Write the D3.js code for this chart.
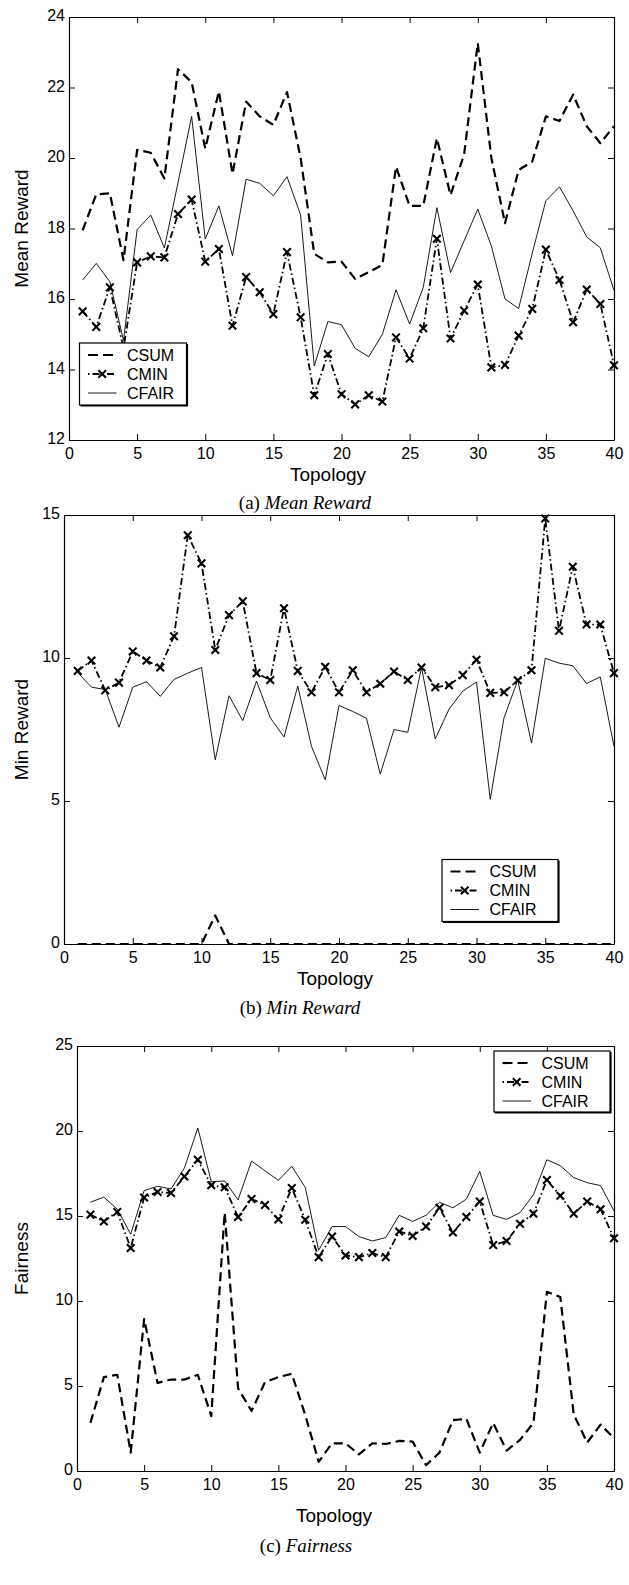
<!DOCTYPE html>
<html><head><meta charset="utf-8">
<script src="https://cdn.jsdelivr.net/npm/d3@7/dist/d3.min.js"></script>
<style>body{margin:0;background:#fff} svg{display:block}</style>
</head><body>
<svg id="chart" width="629" height="1585"></svg>
<script>
// ---------- data ----------
const topology = [1,2,3,4,5,6,7,8,9,10,11,12,13,14,15,16,17,18,19,20,21,22,23,24,25,26,27,28,29,30,31,32,33,34,35,36,37,38,39,40];
const seriesNames = ["CSUM","CMIN","CFAIR"];
const xTicks = [0,5,10,15,20,25,30,35,40];

const meanTicks = [12,14,16,18,20,22,24];
const meanCSUM = [17.95,18.97,19.0,17.1,20.23,20.15,19.42,22.52,22.15,20.27,21.89,19.55,21.6,21.18,20.94,21.87,20.0,17.28,17.04,17.06,16.57,16.76,16.97,19.75,18.64,18.64,20.56,18.95,20.1,23.26,20.0,18.15,19.66,19.9,21.18,21.05,21.8,20.9,20.42,20.9];
const meanCMIN = [15.65,15.21,16.33,14.6,17.04,17.21,17.18,18.41,18.82,17.06,17.42,15.24,16.62,16.19,15.57,17.33,15.48,13.27,14.44,13.30,13.01,13.27,13.09,14.91,14.31,15.17,17.71,14.88,15.67,16.41,14.06,14.13,14.96,15.72,17.40,16.54,15.34,16.27,15.86,14.12];
const meanCFAIR = [16.54,17.01,16.49,14.82,17.97,18.38,17.45,19.3,21.18,17.7,18.64,17.23,19.4,19.28,18.93,19.47,18.38,14.10,15.36,15.27,14.6,14.36,15.0,16.26,15.29,16.33,18.59,16.75,17.65,18.55,17.5,16.0,15.73,17.3,18.79,19.18,18.5,17.76,17.45,16.24];

const minTicks = [0,5,10,15];
const minCSUM = [0,0,0,0,0,0,0,0,0,0,1.0,0,0,0,0,0,0,0,0,0,0,0,0,0,0,0,0,0,0,0,0,0,0,0,0,0,0,0,0,0];
const minCMIN = [9.55,9.91,8.87,9.14,10.23,9.91,9.67,10.76,14.29,13.31,10.28,11.5,11.98,9.47,9.23,11.74,9.55,8.80,9.69,8.80,9.57,8.80,9.10,9.53,9.23,9.67,8.98,9.05,9.40,9.94,8.78,8.80,9.22,9.57,14.88,10.95,13.19,11.17,11.17,9.47];
const minCFAIR = [9.49,8.98,8.9,7.58,8.98,9.17,8.66,9.25,9.47,9.67,6.44,8.68,7.81,9.19,7.91,7.24,9.02,6.91,5.74,8.34,8.13,7.89,5.94,7.5,7.4,9.67,7.17,8.21,8.84,9.16,5.06,7.91,9.22,7.03,9.99,9.82,9.73,9.11,9.34,6.91];

const fairTicks = [0,5,10,15,20,25];
const fairCSUM = [2.83,5.52,5.66,1.08,8.94,5.18,5.38,5.38,5.66,3.23,15.2,4.86,3.53,5.22,5.52,5.72,3.3,0.54,1.63,1.63,0.98,1.63,1.59,1.77,1.73,0.34,1.08,2.99,3.07,1.08,2.83,1.2,1.83,2.83,10.54,10.24,3.33,1.67,2.73,1.93];
const fairCMIN = [15.08,14.68,15.24,13.12,16.09,16.41,16.35,17.32,18.31,16.81,16.69,14.94,16.0,15.65,14.8,16.65,14.78,12.58,13.79,12.68,12.58,12.82,12.58,14.09,13.83,14.38,15.48,14.03,14.94,15.85,13.29,13.53,14.54,15.14,17.12,16.19,15.14,15.85,15.4,13.69];
const fairCFAIR = [15.81,16.11,15.4,13.93,16.49,16.75,16.59,17.82,20.18,17.02,17.06,15.95,18.23,17.66,17.1,17.92,16.69,12.98,14.38,14.38,13.79,13.53,13.73,15.04,14.68,15.04,15.81,15.48,15.99,17.62,15.04,14.8,15.2,16.25,18.31,17.96,17.26,16.96,16.79,15.3];

// ---------- layout / style ----------
const SANS = "'Liberation Sans', Arial, Helvetica, sans-serif";
const SERIF = "'Liberation Serif', 'Times New Roman', serif";
const styles = {
  CSUM:  {width:2.2, dash:"9,5"},
  CMIN:  {width:1.8, dash:"7,3,1.5,3", marker:true},
  CFAIR: {width:0.9, dash:null}
};

const panels = [
  {left:69, right:614, top:17, bottom:440, domain:[12,24], yTicks:meanTicks,
   series:[meanCSUM, meanCMIN, meanCFAIR], ylabel:"Mean Reward",
   xlabelX:328, xlabelY:481, capPre:"(a) ", capIt:"Mean Reward", capX:305, capY:509,
   leg:{x:79.5, y:343, w:107, h:62}},
  {left:64, right:614, top:515, bottom:944, domain:[0,15], yTicks:minTicks,
   series:[minCSUM, minCMIN, minCFAIR], ylabel:"Min Reward",
   xlabelX:335, xlabelY:985, capPre:"(b) ", capIt:"Min Reward", capX:300, capY:1014,
   leg:{x:442, y:859.5, w:116, h:62}},
  {left:77, right:614, top:1046, bottom:1471, domain:[0,25], yTicks:fairTicks,
   series:[fairCSUM, fairCMIN, fairCFAIR], ylabel:"Fairness",
   xlabelX:334, xlabelY:1522, capPre:"(c) ", capIt:"Fairness", capX:306, capY:1552,
   leg:{x:494, y:1051, w:116, h:61}}
];

const svg = d3.select("#chart");

function xMarker(g, cx, cy, r) {
  g.append("path")
    .attr("d", `M${cx-r},${cy-r}L${cx+r},${cy+r}M${cx-r},${cy+r}L${cx+r},${cy-r}`)
    .attr("stroke", "#000").attr("stroke-width", 2.1).attr("fill", "none");
}

panels.forEach(p => {
  const x = d3.scaleLinear().domain([0, 40]).range([p.left, p.right]);
  const y = d3.scaleLinear().domain(p.domain).range([p.bottom, p.top]);
  const g = svg.append("g");

  const ax = (sel) => {
    sel.selectAll(".domain").attr("stroke", "#000").attr("stroke-width", 1.2);
    sel.selectAll(".tick line").attr("stroke", "#000").attr("stroke-width", 1);
    sel.selectAll(".tick text").attr("font-family", SANS).attr("font-size", 16).attr("fill", "#000");
  };
  g.append("g").attr("transform", `translate(0,${p.bottom})`)
    .call(d3.axisBottom(x).tickValues(xTicks).tickSizeInner(-6).tickSizeOuter(0).tickPadding(8).tickFormat(d3.format("d")))
    .call(ax);
  g.append("g").attr("transform", `translate(0,${p.top})`)
    .call(d3.axisTop(x).tickValues(xTicks).tickSizeInner(-6).tickSizeOuter(0).tickFormat(""))
    .call(ax);
  g.append("g").attr("transform", `translate(${p.left},0)`)
    .call(d3.axisLeft(y).tickValues(p.yTicks).tickSizeInner(-6).tickSizeOuter(0).tickPadding(4).tickFormat(d3.format("d")))
    .call(ax)
    .selectAll(".tick text").attr("dy", "0.22em");
  g.append("g").attr("transform", `translate(${p.right},0)`)
    .call(d3.axisRight(y).tickValues(p.yTicks).tickSizeInner(-6).tickSizeOuter(0).tickFormat(""))
    .call(ax);

  seriesNames.forEach((name, si) => {
    const vals = p.series[si];
    const st = styles[name];
    const line = d3.line().x((d, i) => x(topology[i])).y(d => y(d));
    g.append("path").datum(vals)
      .attr("d", line)
      .attr("fill", "none").attr("stroke", "#000")
      .attr("stroke-width", st.width)
      .attr("stroke-dasharray", st.dash)
      .attr("stroke-linejoin", "round");
    if (st.marker) {
      vals.forEach((v, i) => xMarker(g, x(topology[i]), y(v), 3.8));
    }
  });

  g.append("text").attr("x", p.xlabelX).attr("y", p.xlabelY)
    .attr("text-anchor", "middle").attr("font-family", SANS).attr("font-size", 19)
    .text("Topology");
  const cy = (p.top + p.bottom) / 2;
  g.append("text").attr("transform", `translate(28,${cy}) rotate(-90)`)
    .attr("text-anchor", "middle").attr("font-family", SANS).attr("font-size", 19)
    .text(p.ylabel);

  const cap = g.append("text").attr("x", p.capX).attr("y", p.capY)
    .attr("text-anchor", "middle").attr("font-family", SERIF).attr("font-size", 19);
  cap.append("tspan").text(p.capPre);
  cap.append("tspan").attr("font-style", "italic").text(p.capIt);

  const L = p.leg;
  const lg = g.append("g").attr("transform", `translate(${L.x},${L.y})`);
  lg.append("rect").attr("x", 0).attr("y", 0).attr("width", L.w).attr("height", L.h)
    .attr("fill", "#fff").attr("stroke", "#000").attr("stroke-width", 1.2);
  lg.append("path").attr("d", `M1,${L.h+0.8}H${L.w+0.8}V1`)
    .attr("fill", "none").attr("stroke", "#000").attr("stroke-width", 1.6);
  const rows = [12, 31, 50];
  seriesNames.forEach((name, si) => {
    const st = styles[name];
    const ry = rows[si];
    lg.append("line").attr("x1", 8.5).attr("x2", 37).attr("y1", ry).attr("y2", ry)
      .attr("stroke", "#000").attr("stroke-width", st.width)
      .attr("stroke-dasharray", name === "CSUM" ? "10,5" : (name === "CMIN" ? "1.5,3,7,3" : null));
    if (st.marker) xMarker(lg, 22.7, ry, 3.8);
    lg.append("text").attr("x", 47.5).attr("y", ry).attr("dy", "0.36em")
      .attr("font-family", SANS).attr("font-size", 16).text(name);
  });
});
</script>
</body></html>
